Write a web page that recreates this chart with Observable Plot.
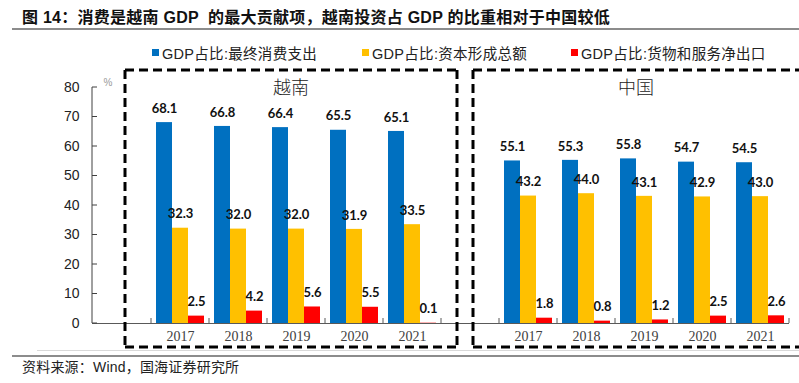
<!DOCTYPE html>
<html><head><meta charset="utf-8">
<script src="https://cdn.jsdelivr.net/npm/d3@7"></script>
<script src="https://cdn.jsdelivr.net/npm/@observablehq/plot@0.6"></script>
<style>
body{margin:0;width:799px;height:383px;position:relative;background:#fff;overflow:hidden;font-family:"Liberation Sans","Noto Sans CJK SC",sans-serif;}
#title{position:absolute;left:22px;top:8px;font-size:16px;line-height:20px;font-weight:bold;color:#111;white-space:pre;letter-spacing:0.25px;}
#titleLine{position:absolute;left:12px;right:0;top:28px;height:2px;background:#8c8c8c;}
.item{position:absolute;top:43px;height:18px;display:flex;align-items:center;font-size:14.5px;letter-spacing:0.3px;color:#222;white-space:nowrap;}
.sw{width:7px;height:7px;margin-right:3px;}
#chart{position:absolute;left:0;top:58px;}
#lightLine{position:absolute;left:37px;right:0;top:350px;height:1px;background:#d9d9d9;}
#footLine{position:absolute;left:12px;right:0;top:355px;height:2px;background:#8c8c8c;}
#source{position:absolute;left:22px;top:358px;font-size:14px;line-height:18px;letter-spacing:0.2px;color:#222;white-space:nowrap;}
</style>
</head><body>
<div id="title"></div>
<div id="titleLine"></div>
<div id="legend"></div>
<div id="chart"></div>
<div id="lightLine"></div>
<div id="footLine"></div>
<div id="source"></div>
<script>
// ---- data ----
const titleText = "图 14：消费是越南 GDP  的最大贡献项，越南投资占 GDP 的比重相对于中国较低";
const sourceText = "资料来源：Wind，国海证券研究所";
const countries = ["越南", "中国"];
const years = ["2017", "2018", "2019", "2020", "2021"];
const seriesNames = ["GDP占比:最终消费支出", "GDP占比:资本形成总额", "GDP占比:货物和服务净出口"];
const seriesColors = ["#0070C0", "#FFC000", "#FF0000"];
const vnConsumption = [68.1, 66.8, 66.4, 65.5, 65.1];
const vnCapital = [32.3, 32.0, 32.0, 31.9, 33.5];
const vnNetExport = [2.5, 4.2, 5.6, 5.5, 0.1];
const cnConsumption = [55.1, 55.3, 55.8, 54.7, 54.5];
const cnCapital = [43.2, 44.0, 43.1, 42.9, 43.0];
const cnNetExport = [1.8, 0.8, 1.2, 2.5, 2.6];
const yTicks = [0, 10, 20, 30, 40, 50, 60, 70, 80];
const unitLabel = "%";

// ---- build table ----
const seriesByCountry = {
  "越南": [vnConsumption, vnCapital, vnNetExport],
  "中国": [cnConsumption, cnCapital, cnNetExport]
};
const slotDomain = ["gap0"];
countries.forEach((c, ci) => {
  years.forEach(y => slotDomain.push(c + "|" + y));
  if (ci < countries.length - 1) slotDomain.push("gap" + (ci + 1));
});
const rows = [];
countries.forEach(c => {
  seriesNames.forEach((s, si) => {
    years.forEach((y, yi) => rows.push({slot: c + "|" + y, year: y, country: c, series: s, si, value: seriesByCountry[c][si][yi]}));
  });
});
const yearSlots = slotDomain.filter(s => !s.startsWith("gap")).map(s => ({slot: s, year: s.split("|")[1]}));

document.getElementById("title").textContent = titleText;
document.getElementById("source").textContent = sourceText;
const legendLefts = [152, 362, 571];
seriesNames.forEach((s, i) => {
  const it = document.createElement("div");
  it.className = "item";
  it.style.left = legendLefts[i] + "px";
  it.innerHTML = `<span class="sw" style="background:${seriesColors[i]}"></span><span>${s}</span>`;
  document.body.appendChild(it);
});

// bar layout within each slot (pixels)
const insets = [[5, 37], [21, 21], [37, 5]];
const labelDx = [-16, 0, 16];

const marks = [];
seriesNames.forEach((s, i) => {
  const d = rows.filter(r => r.si === i);
  marks.push(Plot.barY(d, {x: "slot", y: "value", fill: seriesColors[i], insetLeft: insets[i][0], insetRight: insets[i][1]}));
});
seriesNames.forEach((s, i) => {
  const d = rows.filter(r => r.si === i);
  marks.push(Plot.text(d, {x: "slot", y: "value", text: r => r.value.toFixed(1), dx: labelDx[i], dy: -14,
    fontFamily: "Lato, 'Liberation Sans', sans-serif", fontWeight: "bold", fontSize: 13, fill: "#111"}));
});
marks.push(Plot.ruleY([0], {stroke: "#595959", strokeWidth: 1}));
marks.push(Plot.text(yTicks, {y: d => d, frameAnchor: "left", dx: -13, textAnchor: "end", text: d => String(d),
  fontFamily: "Liberation Sans, Arial, sans-serif", fontSize: 14, fill: "#222"}));
marks.push(Plot.text(yearSlots, {x: "slot", frameAnchor: "bottom", dy: 17, text: "year",
  fontFamily: "Liberation Serif, serif", fontSize: 14, fill: "#404040"}));

const chart = Plot.plot({
  width: 799, height: 295,
  marginLeft: 92, marginRight: 10, marginTop: 29, marginBottom: 30,
  style: {background: "transparent", overflow: "visible"},
  x: {domain: slotDomain, padding: 0, axis: null},
  y: {domain: [0, 80], axis: null},
  marks
});
document.getElementById("chart").appendChild(chart);

// ---- decorations from the chart's own scales ----
const xs = chart.scale("x"), ys = chart.scale("y");
const band = d3.scaleBand().domain(xs.domain).range(xs.range)
  .paddingInner(xs.paddingInner || 0).paddingOuter(xs.paddingOuter || 0).align(xs.align ?? 0.5);
const xL = s => (xs.apply ? xs.apply(s) : band(s));
const bw = xs.bandwidth ?? band.bandwidth();
const yL = d3.scaleLinear().domain(ys.domain).range(ys.range);
const svg = d3.select(chart);
const g = svg.append("g");
const x0 = xs.range[0];
// y axis line and inward ticks
g.append("line").attr("x1", x0).attr("x2", x0).attr("y1", yL(0)).attr("y2", yL(80)).attr("stroke", "#404040");
yTicks.forEach(t => g.append("line").attr("x1", x0).attr("x2", x0 + 5).attr("y1", yL(t)).attr("y2", yL(t)).attr("stroke", "#404040"));
// x ticks at slot boundaries (upward)
const tickXs = [];
yearSlots.forEach(s => { tickXs.push(xL(s.slot)); });
countries.forEach(c => tickXs.push(xL(c + "|" + years[years.length - 1]) + bw));
tickXs.forEach(x => g.append("line").attr("x1", x).attr("x2", x).attr("y1", yL(0)).attr("y2", yL(0) - 5).attr("stroke", "#595959"));
// unit label
g.append("text").attr("x", x0 + 16).attr("y", 25).attr("text-anchor", "middle").attr("dominant-baseline", "middle")
  .attr("font-size", 10).attr("fill", "#999").attr("font-family", "Liberation Sans, sans-serif").text(unitLabel);
// dashed boxes per country
const boxTop = 12, boxBottom = 289;
countries.forEach((c, ci) => {
  const left = xL(c + "|" + years[0]) - 26;
  const right = ci < countries.length - 1 ? xL(c + "|" + years[years.length - 1]) + bw + 16 : 805;
  const path = d3.path();
  path.moveTo(left, boxTop); path.lineTo(right, boxTop);
  path.moveTo(left, boxTop); path.lineTo(left, boxBottom);
  path.moveTo(left, boxBottom); path.lineTo(right, boxBottom);
  path.moveTo(right, boxTop); path.lineTo(right, boxBottom);
  g.append("path").attr("d", path.toString()).attr("fill", "none").attr("stroke", "#000")
    .attr("stroke-width", 3).attr("stroke-dasharray", "9 5");
  const cx = ci < countries.length - 1 ? (left + right) / 2 : (left + 799) / 2;
  g.append("text").attr("x", cx).attr("y", 31).attr("text-anchor", "middle").attr("dominant-baseline", "middle")
    .attr("font-size", 18).attr("fill", "#222").attr("font-family", "Noto Sans CJK SC, sans-serif").attr("font-weight", 300).text(c);
});
</script>
</body></html>
